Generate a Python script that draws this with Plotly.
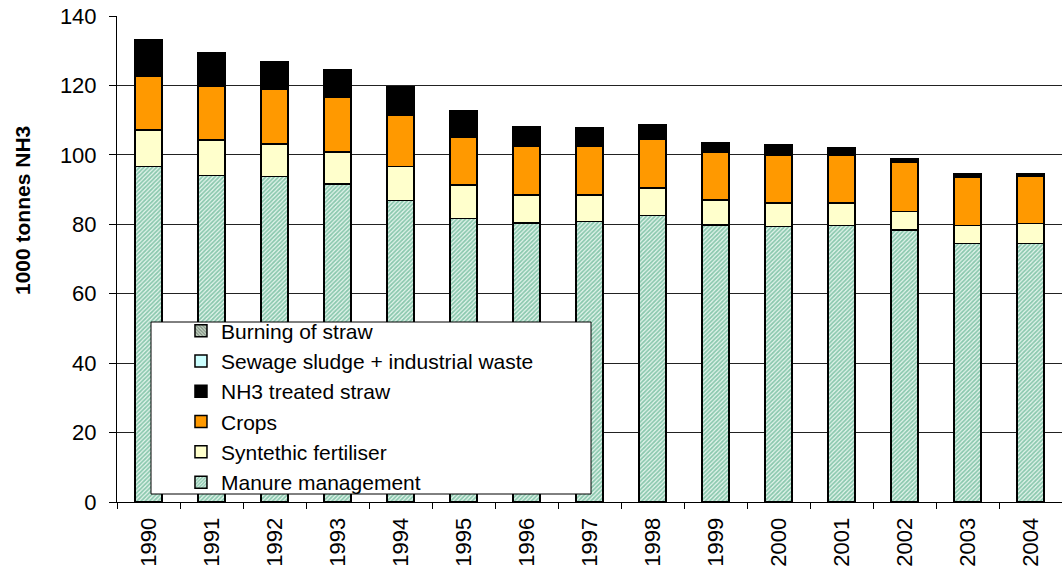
import plotly.graph_objects as go

years = ["1990", "1991", "1992", "1993", "1994", "1995", "1996", "1997",
         "1998", "1999", "2000", "2001", "2002", "2003", "2004"]

manure_management = [96.6, 94.1, 93.7, 91.6, 86.9, 81.7, 80.3, 80.8,
                     82.5, 79.8, 79.3, 79.7, 78.4, 74.4, 74.4]
synthetic_fertiliser = [10.6, 10.2, 9.5, 9.2, 9.7, 9.6, 8.1, 7.6,
                        7.9, 7.2, 6.8, 6.4, 5.3, 5.3, 5.8]
crops = [15.5, 15.6, 15.7, 15.7, 14.7, 13.7, 14.2, 14.2,
         14.2, 13.7, 13.8, 13.8, 14.1, 13.8, 13.7]
nh3_treated_straw = [10.6, 9.4, 8.0, 8.1, 8.4, 7.6, 5.6, 5.1,
                     4.2, 2.7, 3.0, 2.1, 1.2, 1.2, 0.8]
sewage_sludge = [0, 0, 0, 0, 0, 0, 0, 0, 0, 0, 0, 0, 0, 0, 0]
burning_of_straw = [0, 0, 0, 0, 0, 0, 0, 0, 0, 0, 0, 0, 0, 0, 0]

y_title = "1000 tonnes NH3"

FONT = "Liberation Sans, Arial, Helvetica, sans-serif"
line = dict(color="black", width=1.5)

fig = go.Figure()
fig.add_trace(go.Bar(
    name="Manure management", x=years, y=manure_management,
    marker=dict(color="#ffffff", line=line,
                pattern=dict(shape="/", fgcolor="#2e9a6e", bgcolor="#e8f6ef",
                             size=3, solidity=0.6))))
fig.add_trace(go.Bar(
    name="Syntethic fertiliser", x=years, y=synthetic_fertiliser,
    marker=dict(color="#FFFFCC", line=line)))
fig.add_trace(go.Bar(
    name="Crops", x=years, y=crops,
    marker=dict(color="#FF9900", line=line)))
fig.add_trace(go.Bar(
    name="NH3 treated straw", x=years, y=nh3_treated_straw,
    marker=dict(color="#000000", line=line)))
fig.add_trace(go.Bar(
    name="Sewage sludge + industrial waste", x=years, y=sewage_sludge,
    marker=dict(color="#CCFFFF", line=line)))
fig.add_trace(go.Bar(
    name="Burning of straw", x=years, y=burning_of_straw,
    marker=dict(color="#b0b8b0", line=line,
                pattern=dict(shape="\\", fgcolor="#333333", bgcolor="#c8dcc8",
                             size=3, solidity=0.5))))

fig.update_layout(
    width=1062, height=576,
    barmode="stack", bargap=0.57,
    plot_bgcolor="white", paper_bgcolor="white",
    margin=dict(l=117, r=0, t=16, b=74),
    font=dict(family=FONT, size=22, color="black"),
    showlegend=True,
    legend=dict(
        x=0.0677, y=0.394, xanchor="left", yanchor="top",
        bgcolor="rgba(0,0,0,0)", borderwidth=0,
        traceorder="reversed",
        font=dict(family=FONT, size=21, color="black"),
        itemwidth=30,
    ),
    shapes=[dict(
        type="rect", xref="paper", yref="paper", layer="above",
        x0=(151 - 117) / 945, x1=(591 - 117) / 945,
        y0=(502 - 494) / 486, y1=(502 - 322) / 486,
        fillcolor="white", line=dict(color="black", width=1),
    )],
    annotations=[dict(
        text="<b>" + y_title + "</b>", textangle=-90,
        xref="paper", yref="paper",
        x=(22 - 117) / 945, y=(502 - 211) / 486,
        xanchor="center", yanchor="middle", showarrow=False,
        font=dict(family=FONT, size=21, color="black"),
    )],
)

fig.update_xaxes(
    type="category", tickangle=-90, tickson="boundaries",
    ticks="outside", ticklen=6, tickcolor="black",
    showline=True, linecolor="black", linewidth=1,
    showgrid=False, ticklabelstandoff=6,
    tickfont=dict(family=FONT, size=22),
)
fig.update_yaxes(
    range=[0, 140], dtick=20,
    ticks="outside", ticklen=7, tickcolor="black",
    showline=True, linecolor="black", linewidth=1,
    showgrid=True, gridcolor="#222222", gridwidth=1,
    zeroline=False, ticklabelstandoff=8,
    tickfont=dict(family=FONT, size=22),
)

fig.write_html("out.html")
